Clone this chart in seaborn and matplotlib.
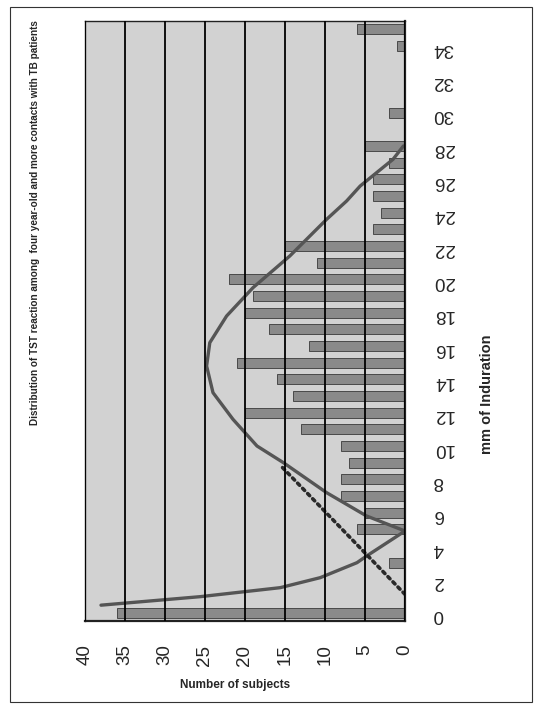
import matplotlib
matplotlib.use('Agg')
import matplotlib.pyplot as plt
import seaborn as sns
import pandas as pd
from matplotlib.patches import Rectangle

# ---------------------------------------------------------------------
# data (mm of induration vs number of subjects)
# ---------------------------------------------------------------------
mm = list(range(36))
subjects = [36, 0, 0, 2, 0, 6, 5, 8, 8, 7, 8, 13, 20, 14, 16, 21, 12, 17,
            20, 19, 22, 11, 15, 4, 3, 4, 4, 2, 5, 0, 2, 0, 0, 0, 1, 6]

# fitted curve (solid) and the dotted line
curve_mm = [0.45, 0.96, 1.5, 2.1, 3.0, 3.4, 4.9, 5.8, 7.2, 9.0, 10.0, 11.6,
            13.2, 14.8, 16.2, 17.8, 19.5, 21.4, 23.6, 24.7, 25.6, 27.2, 28.0]
curve_n = [38.0, 25.6, 15.6, 10.6, 6.0, 4.8, 0.0, 4.8, 9.8, 15.2, 18.5, 21.5,
           24.0, 24.8, 24.4, 22.3, 19.0, 14.4, 9.8, 7.3, 5.6, 1.5, 0.2]
dot_mm = [1.1, 8.8]
dot_n = [0.0, 15.5]

count_ticks = [0, 5, 10, 15, 20, 25, 30, 35, 40]
mm_ticks = list(range(0, 35, 2))

title = "Distribution of TST reaction among  four year-old and more contacts with TB patients"

df = pd.DataFrame({"mm": mm, "n": subjects})

sns.set_style("white")
plt.rcParams['font.family'] = ['Liberation Sans', 'DejaVu Sans']

fig = plt.figure(figsize=(5.35, 7.04), dpi=100)
ax = fig.add_axes([85 / 535, 1 - 621 / 704, 320 / 535, 600 / 704])
ax.set_facecolor('#d2d2d2')

# chart is printed rotated: bars run leftwards from the zero line on the right
sns.barplot(data=df, x="n", y="mm", orient="h", native_scale=True,
            color='#8a8a8a', edgecolor='#3a3a3a', linewidth=0.6,
            width=0.6, saturation=1, ax=ax)

sns.lineplot(x=curve_n, y=curve_mm, sort=False, estimator=None,
             color='#555555', linewidth=2.4, ax=ax)
sns.lineplot(x=dot_n, y=dot_mm, sort=False, estimator=None,
             color='#2a2a2a', linewidth=2.6, linestyle=(0, (0.8, 1.2)),
             dash_capstyle='round', ax=ax)

ax.set_xlim(40, 0)
ax.set_ylim(-0.5, 35.5)
ax.set_xticks(count_ticks)
ax.set_xticklabels([str(v) for v in count_ticks], rotation=90, fontsize=13.5)
ax.yaxis.tick_right()
ax.set_yticks(mm_ticks)
ax.set_yticklabels([str(v) for v in mm_ticks], rotation=180, fontsize=13.5)
ax.tick_params(axis='x', length=0, pad=17)
ax.tick_params(axis='y', length=0, pad=20)
ax.set_xlabel("")
ax.set_ylabel("")

ax.grid(axis='x', color='black', linewidth=1.3)
ax.grid(axis='y', visible=False)
ax.set_axisbelow(False)
for s in ax.spines.values():
    s.set_color('#222222')
    s.set_linewidth(1.0)
ax.spines['right'].set_linewidth(1.6)
ax.spines['bottom'].set_linewidth(1.6)

fig.text(35 / 535, 1 - 20 / 704, title, rotation=90, ha='center', va='top',
         fontsize=7.2, fontweight='bold')
fig.text(235 / 535, 1 - 685 / 704, "Number of subjects", ha='center',
         va='center', fontsize=8.5, fontweight='bold')
fig.text(487 / 535, 1 - 394 / 704, "mm of Induration", rotation=90,
         ha='center', va='center', fontsize=10.5, fontweight='bold')

fig.patches.append(Rectangle((10 / 535, 2 / 704), 522 / 535, 695 / 704,
                             transform=fig.transFigure, fill=False,
                             edgecolor='#333333', linewidth=0.8))

fig.savefig('out.png', dpi=100)
plt.close()
